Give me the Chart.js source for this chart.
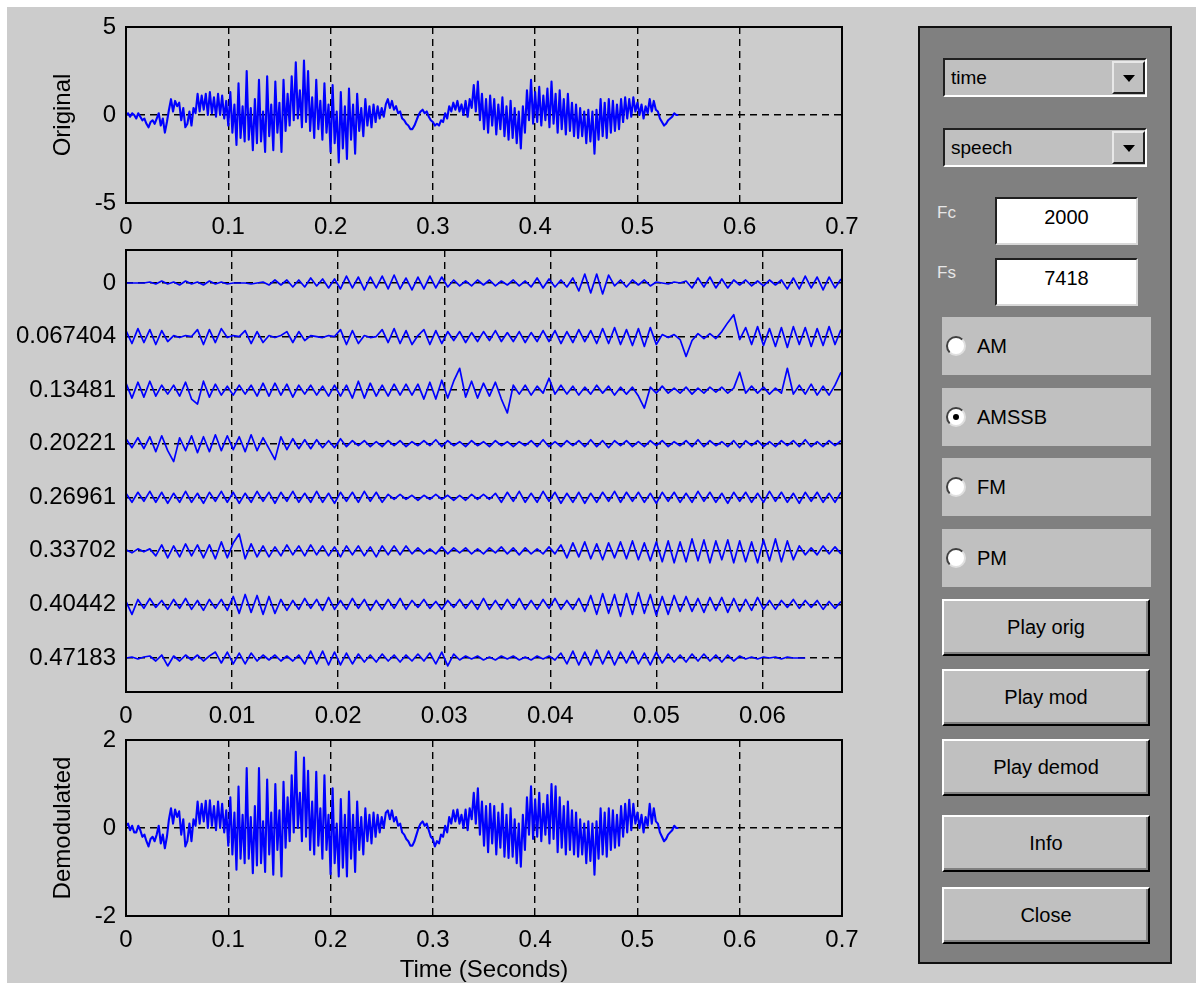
<!DOCTYPE html>
<html>
<head>
<meta charset="utf-8">
<title>Modulation demo</title>
<script src="https://cdn.jsdelivr.net/npm/chart.js@4.4.1/dist/chart.umd.min.js"></script>
<style>
  body { margin: 0; width: 1196px; height: 983px; background: #fff; position: relative; overflow: hidden;
         font-family: "Liberation Sans", Arial, sans-serif; }
  #fig { position: absolute; left: 7px; top: 7px; width: 1189px; height: 976px; background: #cccccc; }
  canvas { position: absolute; left: 0; top: 0; }
  #panel { position: absolute; left: 918px; top: 26px; width: 254px; height: 938px; box-sizing: border-box;
           background: #808080; border: 2px solid #101010; }
  .popup { position: absolute; left: 943px; width: 204px; height: 39px; box-sizing: border-box; background: #c0c0c0;
           border: 2px solid; border-color: #202020 #fff #fff #202020; font-size: 19px; line-height: 35px; padding-left: 6px; }
  .arrow { position: absolute; right: 0; top: 1px; width: 33px; height: 33px; box-sizing: border-box; background: #c0c0c0;
           border: 2px solid; border-color: #e8e8e8 #202020 #202020 #e8e8e8; }
  .arrow::after { content: ''; position: absolute; left: 9px; top: 12px; border-left: 6px solid transparent;
                  border-right: 6px solid transparent; border-top: 7px solid #000; }
  .lbl { position: absolute; left: 937px; font-size: 17px; color: #e6e6e6; }
  .edit { position: absolute; left: 995px; width: 143px; height: 48px; box-sizing: border-box; background: #fff;
          border: 2px solid; border-color: #202020 #d8d8d8 #d8d8d8 #202020; text-align: center; font-size: 20px; line-height: 36px; }
  .radio { position: absolute; left: 942px; width: 209px; height: 58px; box-sizing: border-box; background: #c0c0c0;
           font-size: 20px; line-height: 58px; padding-left: 35px; }
  .radio i { position: absolute; left: 4px; top: 19px; width: 20px; height: 20px; box-sizing: border-box; border-radius: 50%;
             background: #fff; border: 2px solid; border-color: #404040 #e0e0e0 #e0e0e0 #404040; }
  .radio i.on::after { content: ''; position: absolute; left: 5px; top: 5px; width: 6px; height: 6px; border-radius: 50%; background: #000; }
  .btn { position: absolute; left: 942px; width: 208px; height: 57px; box-sizing: border-box; background: #c0c0c0;
         border: 2px solid; border-color: #fff #000 #000 #fff; box-shadow: inset -2px -2px 0 #808080;
         text-align: center; font-size: 20px; line-height: 53px; }
</style>
</head>
<body>
<div id="fig"></div>
<canvas id="origChart" width="900" height="983"></canvas>
<canvas id="modChart" width="900" height="983"></canvas>
<canvas id="demodChart" width="900" height="983"></canvas>

<div id="panel"></div>
<div class="popup" style="top:58px">time<div class="arrow"></div></div>
<div class="popup" style="top:128px">speech<div class="arrow"></div></div>
<div class="lbl" style="top:203px">Fc</div>
<div class="edit" style="top:197px">2000</div>
<div class="lbl" style="top:263px">Fs</div>
<div class="edit" style="top:258px">7418</div>
<div class="radio" style="top:317px"><i></i>AM</div>
<div class="radio" style="top:388px"><i class="on"></i>AMSSB</div>
<div class="radio" style="top:458px"><i></i>FM</div>
<div class="radio" style="top:529px"><i></i>PM</div>
<div class="btn" style="top:599px">Play orig</div>
<div class="btn" style="top:669px">Play mod</div>
<div class="btn" style="top:739px">Play demod</div>
<div class="btn" style="top:815px">Info</div>
<div class="btn" style="top:887px">Close</div>

<script>
// values, one every 2 ms (top and bottom plots)
const waveStep = 0.002;
const original = [
  0.0, 0.1, -0.1, 0.1, 0.0, -0.2, 0.1, -0.1, -0.3, -0.2,
  -0.5, -0.7, -0.4, -0.3, -0.5, -0.2, 0.1, -0.6, -0.2, -1.0,
  -0.4, 0.3, 0.9, 0.2, 0.8, 0.5, 0.7, -0.3, 0.4, -0.7,
  -0.5, 0.2, -0.6, 0.4, 0.1, 1.2, 0.2, 1.1, 0.3, 1.2,
  0.0, 1.3, 0.1, 1.0, -0.1, 1.2, 0.0, 1.1, -0.2, 0.8,
  -0.6, 1.3, -1.0, 0.6, -1.7, 1.8, -1.3, 0.5, -1.5, 2.5,
  -1.4, 0.4, -2.0, 0.9, -1.6, 2.0, -1.5, 0.2, -2.1, 2.2,
  -1.2, 0.6, -2.0, 1.9, -1.0, 0.7, -2.1, 2.0, -0.9, 1.2,
  -0.6, 2.2, -0.3, 3.0, -0.2, 1.4, -0.7, 3.1, -0.4, 2.5,
  -0.9, 1.0, -1.3, 2.0, -0.8, 0.8, -1.4, 1.8, -1.0, 0.6,
  -2.1, 1.7, -1.6, 0.2, -2.7, 1.3, -1.9, 0.5, -2.5, 1.5,
  -1.4, 0.6, -2.2, 1.2, -0.9, 0.4, -1.2, 0.9, -0.6, 0.5,
  -0.7, 0.6, -0.4, 0.5, -0.2, 0.4, -0.1, 0.6, 0.9, 0.4,
  0.8, 0.3, 0.5, 0.1, 0.2, -0.2, -0.3, -0.5, -0.6, -0.8,
  -0.8, -0.6, -0.3, 0.0, 0.2, 0.3, 0.1, 0.2, -0.1, -0.3,
  -0.4, -0.6, -0.5, -0.6, -0.3, -0.4, 0.1, -0.2, 0.5, 0.2,
  0.7, 0.3, 0.8, 0.2, 0.6, 0.0, 0.8, -0.1, 0.9, 0.4,
  1.7, 0.2, 1.9, -0.3, 1.2, -0.8, 0.9, -1.0, 1.1, -0.6,
  0.9, -1.1, 0.6, -0.8, 1.0, -1.2, 0.5, -1.4, 0.8, -1.3,
  0.4, -1.6, 0.2, -1.9, 0.5, -1.0, 1.4, -0.3, 2.0, -0.5,
  1.3, -0.4, 1.6, -0.6, 1.1, -0.3, 1.5, -0.7, 1.9, -0.5,
  1.2, -1.0, 1.4, -0.8, 0.9, -1.1, 1.2, -0.9, 0.7, -1.2,
  0.6, -1.3, 0.4, -1.2, 0.2, -1.6, 0.3, -1.5, 0.2, -2.2,
  0.3, -1.4, 0.9, -1.2, 0.7, -1.3, 0.9, -1.0, 0.8, -0.9,
  0.6, -0.8, 0.9, -0.4, 1.0, -0.2, 0.9, -0.1, 1.0, 0.2,
  0.7, 0.0, 0.6, -0.2, 0.5, 0.1, 0.9, 0.2, 0.8, 0.3,
  0.2, -0.2, -0.4, -0.6, -0.5, -0.3, -0.2, -0.1, 0.1, 0.0,
  0.0
];
const demodulated = [
  0.05, 0.1, -0.05, 0.05, -0.1, -0.1, 0.05, -0.05, -0.2, -0.15,
  -0.3, -0.42, -0.25, -0.2, -0.3, -0.15, 0.05, -0.35, -0.15, -0.46,
  -0.2, 0.2, 0.45, 0.1, 0.42, 0.25, 0.38, -0.15, 0.2, -0.42,
  -0.3, 0.1, -0.3, 0.2, 0.05, 0.6, 0.1, 0.55, 0.15, 0.62,
  0.0, 0.63, 0.05, 0.5, -0.05, 0.6, 0.0, 0.55, -0.1, 0.4,
  -0.4, 0.7, -0.6, 0.35, -0.95, 0.94, -0.7, 0.3, -0.8, 1.36,
  -0.7, 0.25, -1.03, 0.5, -0.85, 1.36, -0.8, 0.15, -1.0, 1.1,
  -0.6, 0.35, -1.06, 1.0, -0.5, 0.4, -1.1, 1.05, -0.45, 0.7,
  -0.3, 1.2, -0.1, 1.73, 0.0, 0.8, -0.3, 1.6, -0.2, 1.3,
  -0.5, 0.6, -0.6, 1.28, -0.4, 0.45, -0.7, 1.2, -0.5, 0.3,
  -1.05, 0.9, -0.8, 0.1, -1.1, 0.66, -0.9, 0.3, -1.1, 0.83,
  -0.7, 0.3, -1.0, 0.6, -0.5, 0.25, -0.6, 0.45, -0.3, 0.3,
  -0.35, 0.35, -0.2, 0.3, -0.1, 0.25, 0.0, 0.35, 0.4, 0.2,
  0.4, 0.15, 0.25, 0.05, 0.1, -0.1, -0.15, -0.25, -0.3, -0.4,
  -0.4, -0.3, -0.15, 0.0, 0.1, 0.15, 0.05, 0.1, -0.05, -0.2,
  -0.25, -0.42, -0.3, -0.35, -0.15, -0.2, 0.05, -0.1, 0.25, 0.1,
  0.4, 0.15, 0.42, 0.1, 0.3, 0.0, 0.42, -0.05, 0.45, 0.2,
  0.8, 0.1, 0.9, -0.15, 0.6, -0.4, 0.5, -0.55, 0.55, -0.35,
  0.5, -0.6, 0.35, -0.45, 0.55, -0.65, 0.3, -0.68, 0.45, -0.65,
  0.2, -0.8, 0.1, -0.88, 0.3, -0.5, 0.7, -0.15, 0.95, -0.25,
  0.65, -0.2, 0.8, -0.3, 0.55, -0.15, 0.75, -0.35, 1.0, -0.25,
  0.95, -0.55, 0.7, -0.45, 0.5, -0.6, 0.6, -0.5, 0.4, -0.6,
  0.35, -0.65, 0.2, -0.6, 0.1, -0.8, 0.15, -0.75, 0.1, -1.06,
  0.15, -0.7, 0.45, -0.6, 0.35, -0.65, 0.45, -0.5, 0.4, -0.45,
  0.3, -0.4, 0.5, -0.2, 0.55, -0.1, 0.64, -0.05, 0.55, 0.1,
  0.35, 0.0, 0.3, -0.1, 0.25, 0.05, 0.55, 0.1, 0.45, 0.15,
  0.1, -0.1, -0.2, -0.3, -0.25, -0.15, -0.1, -0.05, 0.05, 0.0,
  0.0
];

// middle plot: eight slices of the modulated signal, stacked at these offsets
const sliceLabels = ['0', '0.067404', '0.13481', '0.20221', '0.26961', '0.33702', '0.40442', '0.47183'];
const sliceStep = 0.067404 / 120;
const sliceUnit = 0.00125;   // slice values below are in these units (about one pixel)
const slice0 = [
  0,0,0,0,1,-1,2,-1,1,-2, 2,-1,1,-2,2,-1,1,-1,0,0, 0,-1,0,1,-2,3,-2,3,-4,3, -4,5,-3,4,-5,4,-6,7,-5,6,
  -7,6,-5,7,-6,8,-6,5,-7,6, -6,7,-5,6,-4,3,-3,2,-3,3, -2,3,-3,2,-2,3,-3,2,-4,5, -5,4,-4,3,-4,5,-8,9,-10,9,
  -11,8,-3,3,-4,3,-2,3,-3,1, 0,-1,1,0,2,-5,5,-4,6,-5, 4,-5,3,-2,3,-3,2,-3,3,-2, 3,-6,5,-6,7,-5,6,-7,6,-5, 4];
const slice1 = [
  6,-7,8,-6,7,-8,6,-5,1,-1, 1,0,7,-8,7,-6,8,-1,1,0, 6,-7,5,-6,1,-1,1,5,-6,5, -4,1,0,-1,1,0,7,-8,6,-7,
  1,-1,0,7,-6,8,-7,6,-8,1, 7,-8,6,-7,5,-4,5,-6,4,-5, 5,-4,6,-5,4,-5,5,-6,4,-5, 6,-5,6,-7,5,-6,7,-5,6,-7,
  8,-7,9,-8,7,-9,8,-10,9,-8, 2,-1,2,-3,-20,-4,3,-2,3,-2, 5,14,22,-3,9,-8,10,-9,8,-10, 9,-11,10,-8,9,-10,8,-9,10,-8, 7];
const slice2 = [
  7,-8,8,-7,9,-6,5,-4,5,-6, 8,-9,-14,9,-7,6,-5,4,-5,5, -4,5,-6,7,-6,7,-5,6,-7,5, -4,5,-5,4,-6,5,-6,5,-8,9,
  -8,7,-6,5,-6,6,-5,6,-5,6, -9,8,-9,10,-8,9,22,-7,9,-8, 7,-6,8,-9,-23,5,-4,5,-5,4, -3,12,-4,5,-4,4,-5,3,-4,5,
  -3,4,-5,3,-4,3,-6,-18,3,-3, 4,-3,2,-3,3,-4,2,-3,3,-2, 3,-3,2,18,-3,4,-3,3,-4,2, -3,22,-4,5,-4,6,-5,4,-5,5, 18];
const slice3 = [
  5,-4,6,-5,7,-8,8,-7,-18,6, -7,8,-9,7,-8,9,-7,8,-6,7, -8,9,-7,6,-5,-16,7,-6,5,-5, 4,-5,4,-4,3,-4,5,-3,3,-2,
  3,-3,2,-3,3,-2,3,-3,2,-2, 3,-2,4,-3,3,-2,2,-3,3,-2, 2,-3,3,-2,2,-3,2,-2,3,-3, 4,-3,2,-3,3,-2,3,-3,4,-3,
  3,-4,3,-2,3,-3,2,-3,3,-2, 3,-3,2,-2,3,-3,4,-3,3,-2, 2,-3,3,-4,3,-2,3,-3,2,-3, 3,-2,3,-3,4,-3,2,-3,3,-2, 3];
const slice4 = [
  4,-5,5,-4,6,-5,5,-6,4,-5, 6,-5,4,-6,5,-4,6,-5,5,-6, 4,-5,6,-4,5,-6,5,-4,6,-5, 4,-5,6,-5,4,-6,5,-4,5,-5,
  6,-4,5,-5,3,-2,3,-2,2,-3, 2,-2,3,-2,2,-3,2,-3,3,-2, 3,-2,4,-5,5,-4,6,-5,4,-5, 6,-4,5,-6,4,-5,5,-6,4,-5,
  5,-4,6,-5,5,-4,5,-5,4,-6, 5,-4,5,-5,4,-5,6,-4,5,-5, 4,-6,5,-4,5,-5,4,-5,6,-4, 5,-5,4,-6,5,-4,5,-5,4,-5, 5];
const slice5 = [
  1,-2,2,-1,2,-5,6,-7,5,-6, 7,-5,6,-7,6,-8,9,-7,8,17, -8,7,-6,5,-6,4,-5,6,-4,5, -5,6,-4,5,-5,4,-6,5,-4,5,
  -5,4,-6,5,-4,5,-4,5,-3,3, -3,2,-3,4,-3,3,-2,3,-3,2, -3,3,-2,4,-3,3,-4,3,-3,2, -3,4,-3,6,-7,8,-6,9,-8,7,
  -9,8,-7,9,-8,10,-9,8,-10,9, -11,10,-12,9,-11,12,-10,11,-12,10, -9,11,-12,10,-11,9,-12,11,-10,12, -11,10,-9,5,-4,3,-4,5,-3,4, -3];
const slice6 = [
  3,-10,5,-4,6,-3,4,-5,5,-4, 6,-5,4,-6,5,-4,5,-6,8,-9, 10,-8,9,-10,8,-9,5,-6,4,-5, 6,-4,5,-6,7,-5,4,-5,6,-4,
  5,-6,4,-5,5,-4,6,-5,4,-3, 5,-4,3,-5,4,-3,5,-4,4,-5, 6,-5,4,-5,5,-4,6,-5,4,-5, 5,-4,6,-5,4,-5,6,-7,9,-10,
  11,-9,10,-12,11,-10,12,-9,10,-11, 8,-10,9,-7,8,-7,6,-8,7,-6, 7,-8,6,-7,5,-6,7,-5,4,-5, 4,-3,5,-4,4,-3,4,-5,3,-4, 3];
const slice7 = [
  0,1,-1,1,2,-3,3,-8,2,-3, 3,-2,3,-3,2,6,-5,6,-6,5, -6,5,-3,3,-2,3,-3,2,-3,3, -6,7,-6,7,-7,6,-7,5,-6,4,
  -4,3,-4,4,-3,3,-4,3,-3,4, -3,5,-6,6,-8,4,-2,2,-1,2, -2,1,-2,2,-1,2,-2,1,-2,2, -1,2,-2,5,-6,7,-7,6,-7,8,
  -6,7,-7,6,-5,7,-6,5,-7,6, -5,4,-4,3,-4,4,-3,4,-3,3, -4,3,-3,2,-1,1,-1,1,0,1, -1,1,0,0,0];
const slices = [slice0, slice1, slice2, slice3, slice4, slice5, slice6, slice7];

// tick labels
const longTimeTicks = ['0', '0.1', '0.2', '0.3', '0.4', '0.5', '0.6', '0.7'];
const sliceTimeTicks = ['0', '0.01', '0.02', '0.03', '0.04', '0.05', '0.06'];
const origTicks = ['-5', '0', '5'];
const demodTicks = ['-2', '0', '2'];

Chart.defaults.font.family = '"Liberation Sans", Arial, sans-serif';
Chart.defaults.font.size = 24;
Chart.defaults.color = '#000';

// MATLAB style box around the axes
const frame = {
  id: 'frame',
  afterDatasetsDraw(chart) {
    const { ctx, chartArea: a } = chart;
    ctx.save();
    ctx.strokeStyle = '#000';
    ctx.lineWidth = 2;
    ctx.strokeRect(a.left, a.top, a.right - a.left, a.bottom - a.top);
    ctx.restore();
  }
};

function points(values, step, offset, unit) {
  return values.map((v, i) => ({ x: i * step, y: offset - v * unit }));
}

function line(data, width) {
  return { data, borderColor: '#0000ff', borderWidth: width, pointRadius: 0, tension: 0, borderJoinStyle: 'round', fill: false };
}

function axis(labels, extra) {
  return Object.assign({
    type: 'linear',
    grid: { color: '#000', lineWidth: 1.4, drawTicks: false },
    border: { display: false, dash: [7, 5] },
    ticks: { autoSkip: false, maxRotation: 0, padding: 10, callback: (v, i) => labels[i] },
    afterBuildTicks: s => { s.ticks = labels.map(l => ({ value: Number(l) })); }
  }, extra);
}

function makePlot(id, datasets, x, y, padding) {
  return new Chart(document.getElementById(id), {
    type: 'line',
    data: { datasets },
    options: {
      responsive: false,
      animation: false,
      events: [],
      layout: { padding },
      plugins: { legend: { display: false }, tooltip: { enabled: false } },
      scales: { x, y }
    },
    plugins: [frame]
  });
}

const yTitle = text => ({ display: true, text, padding: { top: 49, bottom: 0 }, font: { size: 24, lineHeight: 1.2 } });

makePlot('origChart',
  [line(points(original, waveStep, 0, -1), 2.1)],
  axis(longTimeTicks, { min: 0, max: 0.7, afterFit: s => { s.height = 40; } }),
  axis(origTicks, { min: -5, max: 5, title: yTitle('Original'), afterFit: s => { s.width = 126; } }),
  { left: 0, top: 27, right: 58, bottom: 740 });

makePlot('modChart',
  slices.map((s, k) => line(points(s, sliceStep, Number(sliceLabels[k]), sliceUnit), 1.7)),
  axis(sliceTimeTicks, { min: 0, max: 0.0675, afterFit: s => { s.height = 40; } }),
  axis(sliceLabels, { min: -0.0415, max: 0.5146, reverse: true, afterFit: s => { s.width = 126; } }),
  { left: 0, top: 250, right: 58, bottom: 251 });

makePlot('demodChart',
  [line(points(demodulated, waveStep, 0, -1), 2.1)],
  axis(longTimeTicks, { min: 0, max: 0.7, afterFit: s => { s.height = 67; },
    title: { display: true, text: 'Time (Seconds)', padding: { top: 0, bottom: 1 }, font: { size: 24, lineHeight: 1 } } }),
  axis(demodTicks, { min: -2, max: 2, title: yTitle('Demodulated'), afterFit: s => { s.width = 126; } }),
  { left: 0, top: 740, right: 58, bottom: 0 });
</script>
</body>
</html>
